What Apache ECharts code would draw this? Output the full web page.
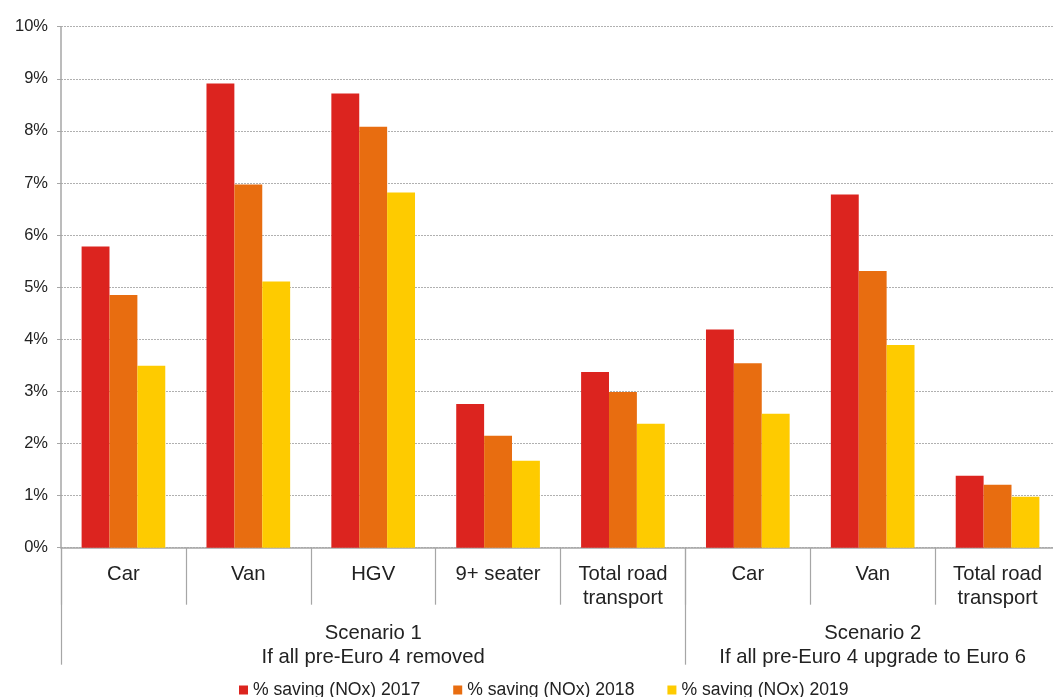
<!DOCTYPE html>
<html>
<head>
<meta charset="utf-8">
<script src="https://cdn.jsdelivr.net/npm/echarts@6/dist/echarts.min.js"></script>
<style>
html,body{margin:0;padding:0;background:#fff;overflow:hidden;}
#wrap{width:1053px;height:697px;overflow:hidden;position:relative;}
#chart{width:1070px;height:697px;}
</style>
</head>
<body>
<div id="wrap"><div id="chart"></div></div>
<script>
const categories = ['Car', 'Van', 'HGV', '9+ seater', 'Total road\ntransport', 'Car', 'Van', 'Total road\ntransport'];
const scenarioLabels = ['Scenario 1\nIf all pre-Euro 4 removed', 'Scenario 2\nIf all pre-Euro 4 upgrade to Euro 6'];
const scenarioCenters = [2.5, 6.5];
const scenarioBounds = [0, 5];
const seriesNames = ['% saving (NOx) 2017', '% saving (NOx) 2018', '% saving (NOx) 2019'];
const saving2017 = [5.78, 8.91, 8.72, 2.76, 3.37, 4.19, 6.78, 1.38];
const saving2018 = [4.85, 6.97, 8.08, 2.15, 2.99, 3.54, 5.31, 1.21];
const saving2019 = [3.49, 5.11, 6.82, 1.67, 2.38, 2.57, 3.89, 0.98];
const yTicks = [0, 1, 2, 3, 4, 5, 6, 7, 8, 9, 10];

const colors = ['#dc241f', '#e86d10', '#fecb00'];
const font = '"Liberation Sans", Arial, sans-serif';
const chart = echarts.init(document.getElementById('chart'), null, {renderer: 'canvas'});
const dataSets = [saving2017, saving2018, saving2019];

chart.setOption({
  animation: false,
  color: colors,
  textStyle: {fontFamily: font},
  grid: {left: 61, top: 26.7, width: 999, height: 521, containLabel: false},
  legend: {
    left: 234, top: 676,
    icon: 'rect', itemWidth: 9, itemHeight: 9, itemGap: 33,
    textStyle: {fontSize: 17.6, color: '#222', fontFamily: font},
    data: seriesNames
  },
  xAxis: [
    {
      type: 'category',
      data: categories,
      axisLine: {lineStyle: {color: '#a6a6a6', width: 1.5}},
      axisTick: {show: true, length: 57, lineStyle: {color: '#a6a6a6', width: 1.2}},
      axisLabel: {interval: 0, margin: 15, fontSize: 20.3, lineHeight: 24, color: '#222', fontFamily: font}
    },
    {
      type: 'value',
      min: 0, max: 8,
      position: 'bottom',
      axisLine: {show: false},
      splitLine: {show: false},
      axisTick: {show: true, length: 117, customValues: scenarioBounds, lineStyle: {color: '#a6a6a6', width: 1.2}},
      axisLabel: {
        customValues: scenarioCenters,
        margin: 74, fontSize: 20.3, lineHeight: 24, color: '#222', fontFamily: font,
        formatter: function (v) { return scenarioLabels[scenarioCenters.indexOf(v)]; }
      }
    }
  ],
  yAxis: {
    type: 'value',
    min: yTicks[0], max: yTicks[yTicks.length - 1], interval: 1,
    axisLine: {show: true, lineStyle: {color: '#a6a6a6', width: 1.5}},
    axisTick: {show: true, length: 4, lineStyle: {color: '#a6a6a6'}},
    axisLabel: {margin: 13, fontSize: 16.5, color: '#222', fontFamily: font, formatter: '{value}%'},
    splitLine: {show: true, lineStyle: {color: '#b0b0b0', type: [2, 1], width: 1}}
  },
  series: seriesNames.map(function (name, i) {
    return {
      name: name,
      type: 'bar',
      xAxisIndex: 0,
      data: dataSets[i],
      barGap: '0%',
      barCategoryGap: '33%',
      itemStyle: {color: colors[i]}
    };
  })
});
</script>
</body>
</html>
